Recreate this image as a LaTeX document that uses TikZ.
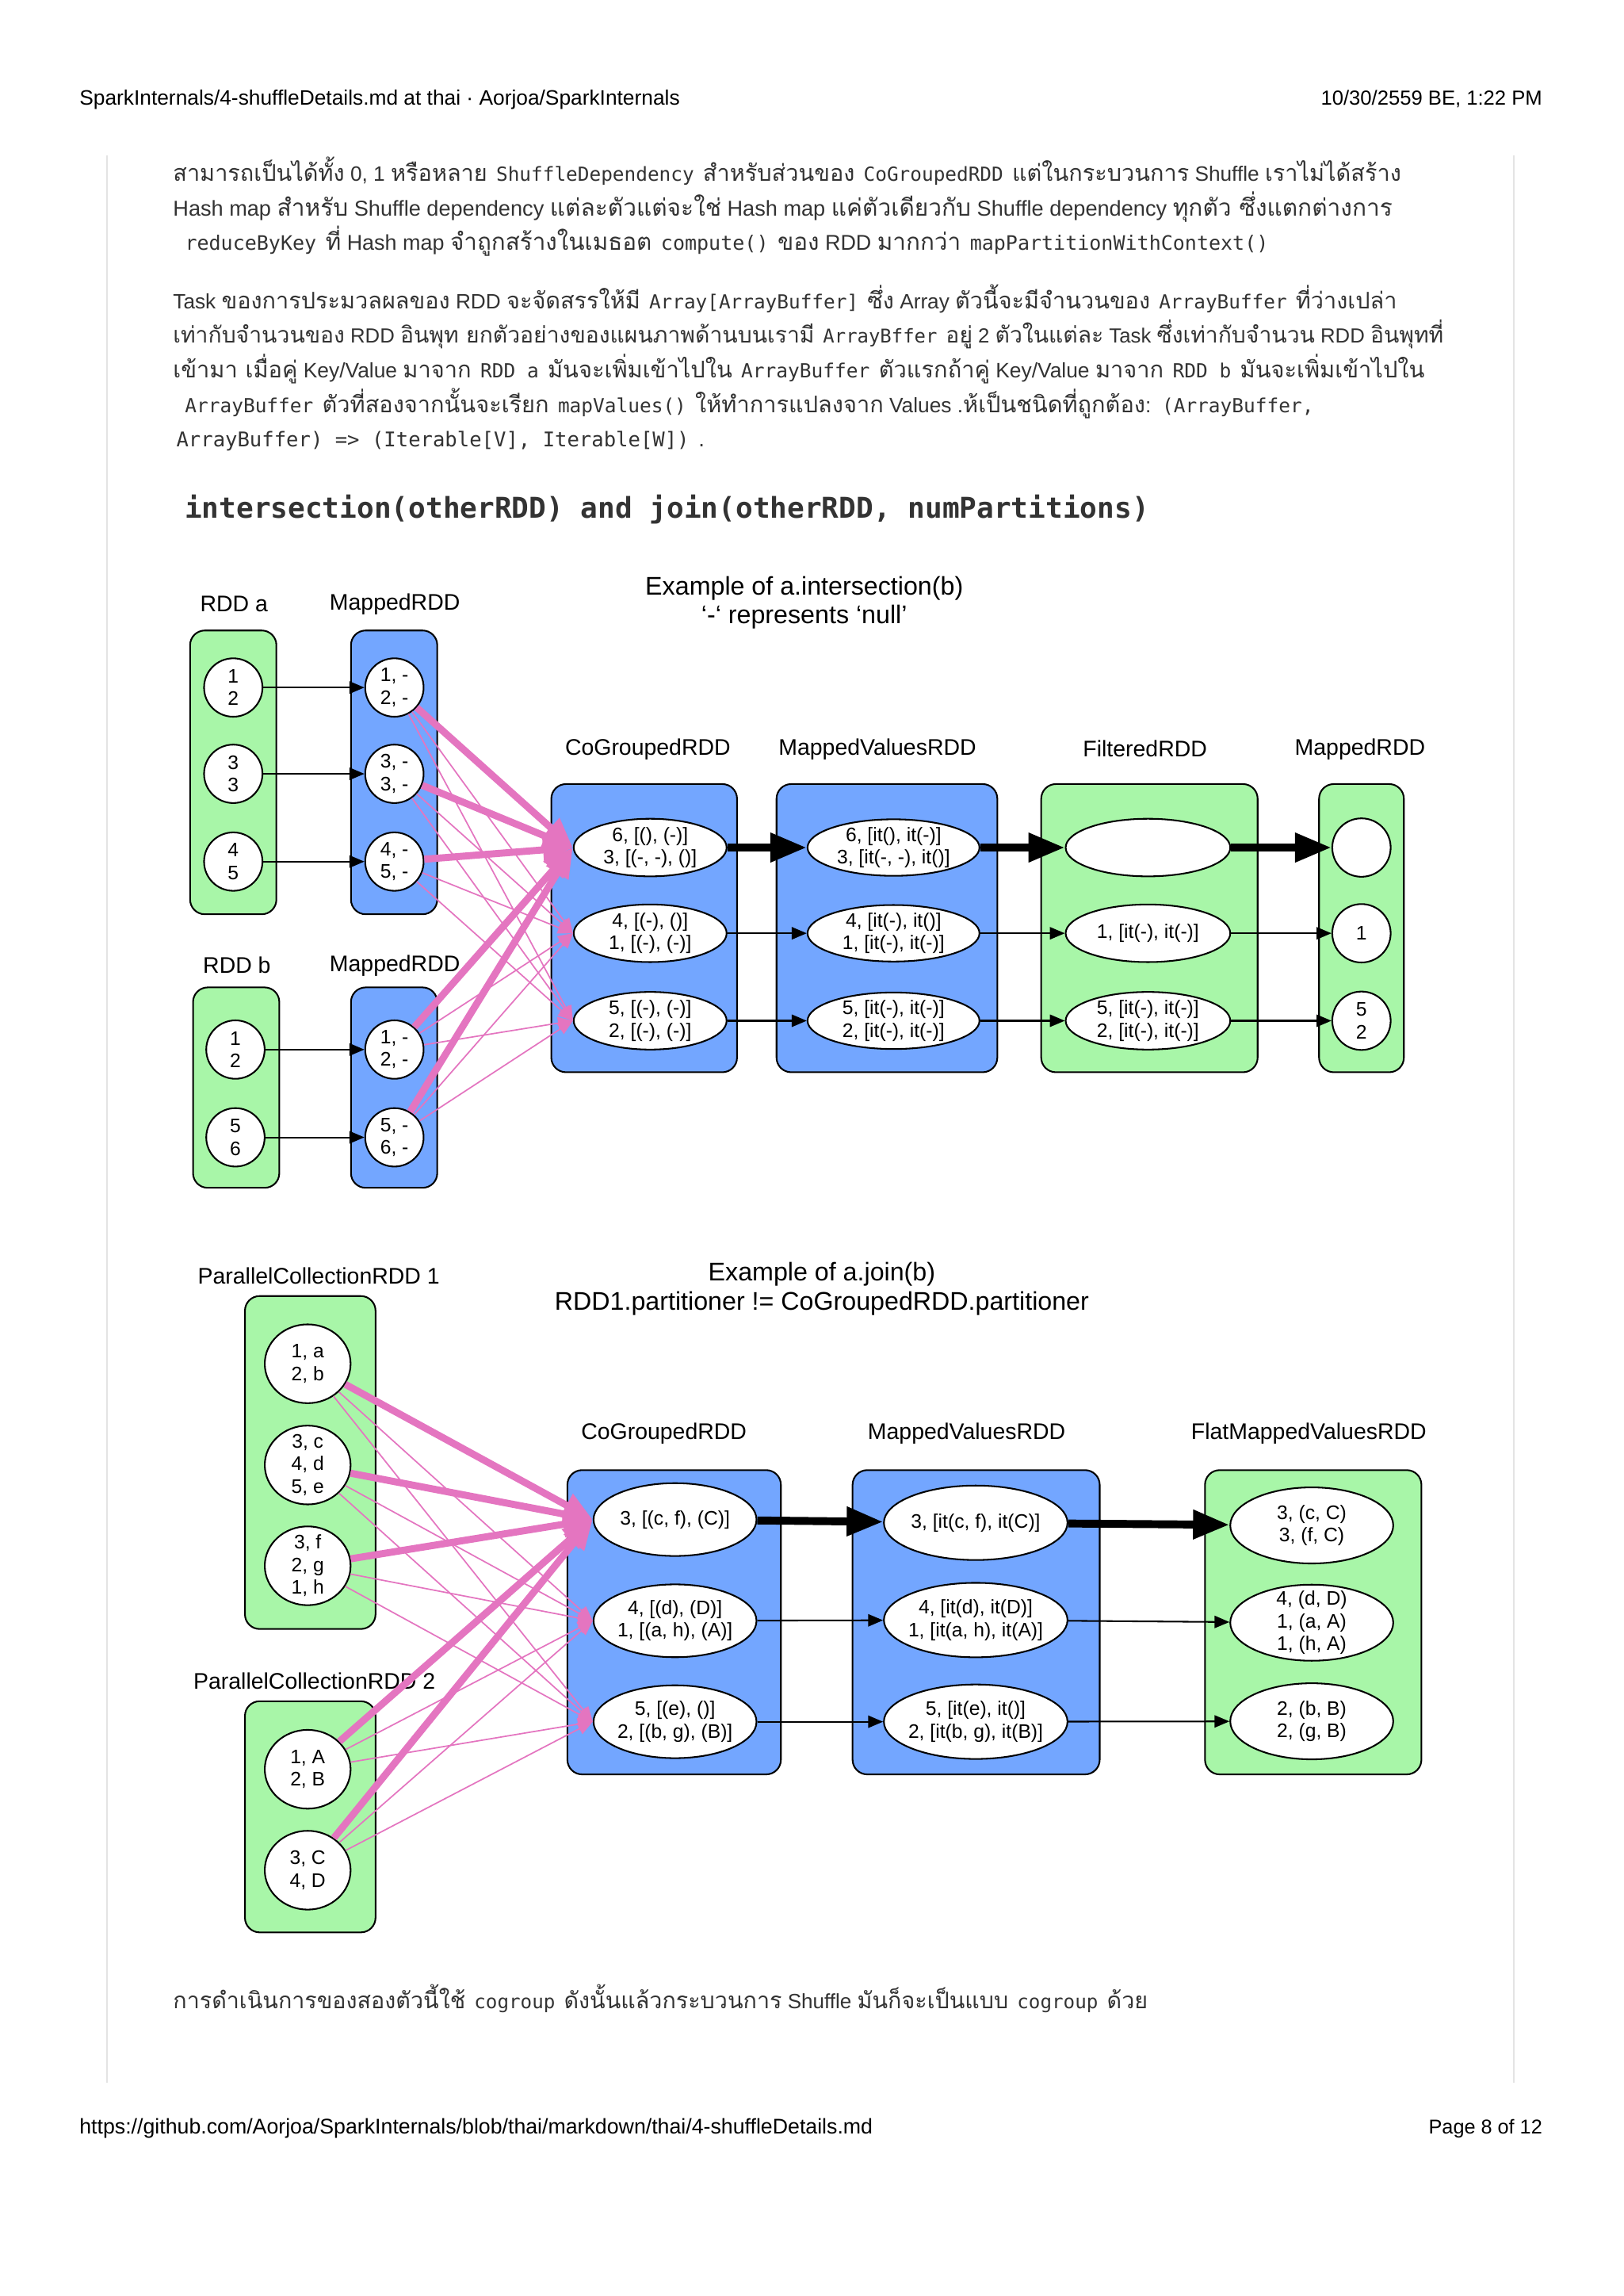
\documentclass[tikz,border=0pt]{standalone}
\usepackage{graphicx}
\usepackage{fontspec}
\setmainfont{Liberation Sans}
\newfontfamily\thf[Script=Thai,Scale=1.1]{Loma}
\newfontfamily\cdf{DejaVu Sans Mono}
\usetikzlibrary{arrows.meta,shapes.geometric}
\definecolor{gfill}{RGB}{168,246,168}
\definecolor{bfill}{RGB}{115,166,255}
\definecolor{pinkc}{RGB}{228,117,192}
\definecolor{bodyc}{RGB}{51,51,51}
\definecolor{rulec}{RGB}{228,228,228}
\newcommand{\bodysz}{\fontsize{8.5}{12}\selectfont}
\newcommand{\cd}[1]{\hspace{0.15em}{\cdf\fontsize{7.9}{12}\selectfont #1}\hspace{0.15em}}
\newcommand{\tx}[1]{{\thf #1}}
\tikzset{
  bodyln/.style={anchor=base west, inner sep=0, text=bodyc, font=\bodysz},
  hdrl/.style={anchor=base west, inner sep=0, font=\fontsize{7.5}{9}\selectfont},
  hdrr/.style={anchor=base east, inner sep=0, font=\fontsize{7.5}{9}\selectfont},
  lbl/.style={inner sep=0, font=\fontsize{8.3}{10}\selectfont},
  ttl/.style={inner sep=0, align=center, font=\fontsize{9.4}{10.7}\selectfont},
  gbox/.style={draw=black, fill=gfill, rounded corners=5.4pt, line width=0.6pt},
  bbox/.style={draw=black, fill=bfill, rounded corners=5.4pt, line width=0.6pt},
  ell/.style={ellipse, draw=black, fill=white, line width=0.6pt, inner sep=-12pt, align=center, font=\fontsize{7.2}{8.3}\selectfont},
  cir/.style={ell, minimum width=21.5pt, minimum height=21.5pt},
  eca/.style={ell, minimum width=56.3pt, minimum height=21.2pt},
  eva/.style={ell, minimum width=63.3pt, minimum height=20.8pt},
  efa/.style={ell, minimum width=60.6pt, minimum height=21.2pt},
  pcn/.style={ell, minimum width=31.6pt, minimum height=29pt},
  ecb/.style={ell, minimum width=60pt, minimum height=26.8pt},
  evb/.style={ell, minimum width=67.6pt, minimum height=27.4pt},
  efb/.style={ell, minimum width=60pt, minimum height=28pt},
  thinblk/.style={-{Triangle[length=5.5pt,width=4.5pt]}, line width=0.6pt},
  thkblk/.style={-{Triangle[length=13.4pt,width=10.2pt]}, line width=2.9pt},
  thinpk/.style={draw=pinkc, -{Triangle[length=5.5pt,width=4.5pt]}, fill=pinkc, line width=0.5pt},
  thkpk/.style={draw=pinkc, -{Triangle[length=11pt,width=9pt]}, fill=pinkc, line width=2.6pt}
}
\begin{document}
\begin{tikzpicture}[x=0.018919cm, y=-0.018919cm]
\useasboundingbox[fill=white] (0,0) rectangle (1110,1569.6);
% page frame
\draw[rulec, line width=0.5pt] (73,106) -- (73,1424);
\draw[rulec, line width=0.5pt] (1035,106) -- (1035,1424);
% header / footer
\node[hdrl] (hl) at (54,72) {\resizebox{221pt}{!}{SparkInternals/4-shuffleDetails.md at thai · Aorjoa/SparkInternals}};
\node[hdrr] (hr) at (1055,72) {\resizebox{81.5pt}{!}{10/30/2559 BE, 1:22 PM}};
\node[hdrl] (fl) at (54,1459) {\resizebox{292pt}{!}{https://github.com/Aorjoa/SparkInternals/blob/thai/markdown/thai/4-shuffleDetails.md}};
\node[hdrr] (fr) at (1055,1459) {\resizebox{41.8pt}{!}{Page 8 of 12}};
% body text
\node[bodyln] (l1) at (118,124) {\resizebox{452.1pt}{!}{\tx{สามารถเป็นได้ทั้ง} 0, 1 \tx{หรือหลาย} \cd{ShuffleDependency} \tx{สำหรับส่วนของ} \cd{CoGroupedRDD} \tx{แต่ในกระบวนการ} Shuffle \tx{เราไม่ได้สร้าง}}};
\node[bodyln] (l2) at (118,147.5) {\resizebox{448.9pt}{!}{Hash map \tx{สำหรับ} Shuffle dependency \tx{แต่ละตัวแต่จะใช่} Hash map \tx{แค่ตัวเดียวกับ} Shuffle dependency \tx{ทุกตัว ซึ่งแตกต่างการ}}};
\node[bodyln] (l3) at (124,171) {\resizebox{401.2pt}{!}{\cd{reduceByKey} \tx{ที่} Hash map \tx{จำถูกสร้างในเมธอต} \cd{compute()} \tx{ของ} RDD \tx{มากกว่า} \cd{mapPartitionWithContext()}}};
\node[bodyln] (l4) at (118,211) {\resizebox{450.5pt}{!}{Task \tx{ของการประมวลผลของ} RDD \tx{จะจัดสรรให้มี} \cd{Array[ArrayBuffer]} \tx{ซึ่ง} Array \tx{ตัวนี้จะมีจำนวนของ} \cd{ArrayBuffer} \tx{ที่ว่างเปล่า}}};
\node[bodyln] (l5) at (118,234.5) {\resizebox{467.7pt}{!}{\tx{เท่ากับจำนวนของ} RDD \tx{อินพุท ยกตัวอย่างของแผนภาพด้านบนเรามี} \cd{ArrayBffer} \tx{อยู่} 2 \tx{ตัวในแต่ละ} Task \tx{ซึ่งเท่ากับจำนวน} RDD \tx{อินพุทที่}}};
\node[bodyln] (l6) at (118,258) {\resizebox{460.7pt}{!}{\tx{เข้ามา เมื่อคู่} Key/Value \tx{มาจาก} \cd{RDD a} \tx{มันจะเพิ่มเข้าไปใน} \cd{ArrayBuffer} \tx{ตัวแรกถ้าคู่} Key/Value \tx{มาจาก} \cd{RDD b} \tx{มันจะเพิ่มเข้าไปใน}}};
\node[bodyln] (l7) at (124,282) {\resizebox{417.8pt}{!}{\cd{ArrayBuffer} \tx{ตัวที่สองจากนั้นจะเรียก} \cd{mapValues()} \tx{ให้ทำการแปลงจาก} Values .\tx{ห้เป็นชนิดที่ถูกต้อง}: \cd{(ArrayBuffer,}}};
\node[bodyln] (l8) at (118,305.5) {\resizebox{195.7pt}{!}{\cd{ArrayBuffer) => (Iterable[V], Iterable[W])} .}};
\node[bodyln] (hd) at (126,354) {\resizebox{355pt}{!}{\cdf\bfseries\fontsize{10.5}{12}\selectfont intersection(otherRDD) and join(otherRDD, numPartitions)}};
\node[bodyln] (lz) at (118,1373) {\resizebox{358.8pt}{!}{\tx{การดำเนินการของสองตัวนี้ใช้} \cd{cogroup} \tx{ดังนั้นแล้วกระบวนการ} Shuffle \tx{มันก็จะเป็นแบบ} \cd{cogroup} \tx{ด้วย}}};

% ===== Diagram 1 =====
\node[ttl] (t1) at (550,412) {Example of a.intersection(b)\\‘-‘ represents ‘null’};
\node[lbl] (la) at (160,413) {RDD a};
\node[lbl] (lma) at (270,413) {MappedRDD};
\node[lbl] (lb) at (162,660) {RDD b};
\node[lbl] (lmb) at (270,660) {MappedRDD};
\node[lbl] (lc1) at (443,512) {CoGroupedRDD};
\node[lbl] (lv1) at (600,512) {MappedValuesRDD};
\node[lbl] (lf1) at (783,512) {FilteredRDD};
\node[lbl] (lg1) at (930,512) {MappedRDD};
\draw[gbox] (130,431) rectangle (189,625);
\draw[bbox] (240,431) rectangle (299,625);
\draw[gbox] (132,675) rectangle (191,812);
\draw[bbox] (240,675) rectangle (299,812);
\draw[bbox] (377,536) rectangle (504,733);
\draw[bbox] (531,536) rectangle (682,733);
\draw[gbox] (712,536) rectangle (860,733);
\draw[gbox] (902,536) rectangle (960,733);
\node[cir] (ra1) at (159.5,470) {1\\2};
\node[cir] (ra2) at (159.5,529) {3\\3};
\node[cir] (ra3) at (159.5,589) {4\\5};
\node[cir] (ma1) at (269.7,470) {1, -\\2, -};
\node[cir] (ma2) at (269.7,529) {3, -\\3, -};
\node[cir] (ma3) at (269.7,589) {4, -\\5, -};
\node[cir] (rb1) at (161,717.5) {1\\2};
\node[cir] (rb2) at (161,777.5) {5\\6};
\node[cir] (mb1) at (269.7,717.5) {1, -\\2, -};
\node[cir] (mb2) at (269.7,777.5) {5, -\\6, -};
\node[eca] (c1) at (444.6,579.4) {6, [(), (-)]\\3, [(-, -), ()]};
\node[eca] (c2) at (444.6,638) {4, [(-), ()]\\1, [(-), (-)]};
\node[eca] (c3) at (444.6,697.8) {5, [(-), (-)]\\2, [(-), (-)]};
\node[eva] (v1) at (611,579.4) {6, [it(), it(-)]\\3, [it(-, -), it()]};
\node[eva] (v2) at (611,638) {4, [it(-), it()]\\1, [it(-), it(-)]};
\node[eva] (v3) at (611,697.8) {5, [it(-), it(-)]\\2, [it(-), it(-)]};
\node[efa] (f1) at (785,579.4) {};
\node[efa] (f2) at (785,638) {1, [it(-), it(-)]};
\node[efa] (f3) at (785,697.8) {5, [it(-), it(-)]\\2, [it(-), it(-)]};
\node[cir] (g1) at (931,579.4) {};
\node[cir] (g2) at (931,638) {1};
\node[cir] (g3) at (931,697.8) {5\\2};
\draw[thinblk] (ra1) -- (ma1);
\draw[thinblk] (ra2) -- (ma2);
\draw[thinblk] (ra3) -- (ma3);
\draw[thinblk] (rb1) -- (mb1);
\draw[thinblk] (rb2) -- (mb2);
\foreach \s in {ma1,ma2,ma3,mb1,mb2}{
  \draw[thinpk] (\s) -- (c2.west);
  \draw[thinpk] (\s) -- (c3.west);
}
\foreach \s in {ma1,ma2,ma3,mb1,mb2}{
  \draw[thkpk] (\s) -- (c1.west);
}
\draw[thkblk] (c1) -- (v1);
\draw[thkblk] (v1) -- (f1);
\draw[thkblk] (f1) -- (g1);
\draw[thinblk] (c2) -- (v2);
\draw[thinblk] (c3) -- (v3);
\draw[thinblk] (v2) -- (f2);
\draw[thinblk] (v3) -- (f3);
\draw[thinblk] (f2) -- (g2);
\draw[thinblk] (f3) -- (g3);

% ===== Diagram 2 =====
\node[ttl] (t2) at (562,881) {Example of a.join(b)\\RDD1.partitioner != CoGroupedRDD.partitioner};
\node[lbl] (lp1) at (218,872) {ParallelCollectionRDD 1};
\node[lbl] (lp2) at (215,1149) {ParallelCollectionRDD 2};
\node[lbl] (lc2) at (454,980) {CoGroupedRDD};
\node[lbl] (lv2) at (661,980) {MappedValuesRDD};
\node[lbl] (lf2) at (895,980) {FlatMappedValuesRDD};
\draw[gbox] (167.5,886) rectangle (256.8,1113.6);
\draw[gbox] (167.5,1163) rectangle (256.8,1321);
\draw[bbox] (388,1005) rectangle (534,1213);
\draw[bbox] (583,1005) rectangle (752,1213);
\draw[gbox] (824,1005) rectangle (972,1213);
\node[pcn] (p1) at (210.4,932.3) {1, a\\2, b};
\node[pcn] (p2) at (210.4,1001.5) {3, c\\4, d\\5, e};
\node[pcn] (p3) at (210.4,1070.4) {3, f\\2, g\\1, h};
\node[pcn] (q1) at (210.4,1209.5) {1, A\\2, B};
\node[pcn] (q2) at (210.4,1278.5) {3, C\\4, D};
\node[ecb] (d1) at (461.6,1038.8) {3, [(c, f), (C)]};
\node[ecb] (d2) at (461.6,1108) {4, [(d), (D)]\\1, [(a, h), (A)]};
\node[ecb] (d3) at (461.6,1177) {5, [(e), ()]\\2, [(b, g), (B)]};
\node[evb] (w1) at (667.2,1041) {3, [it(c, f), it(C)]};
\node[evb] (w2) at (667.2,1107.5) {4, [it(d), it(D)]\\1, [it(a, h), it(A)]};
\node[evb] (w3) at (667.2,1177) {5, [it(e), it()]\\2, [it(b, g), it(B)]};
\node[efb] (e1) at (897,1042.8) {3, (c, C)\\3, (f, C)};
\node[efb] (e2) at (897,1109.3) {4, (d, D)\\1, (a, A)\\1, (h, A)};
\node[efb] (e3) at (897,1176.7) {2, (b, B)\\2, (g, B)};
\foreach \s in {p1,p2,p3,q1,q2}{
  \draw[thinpk] (\s) -- (d2.west);
  \draw[thinpk] (\s) -- (d3.west);
}
\foreach \s in {p1,p2,p3,q1,q2}{
  \draw[thkpk] (\s) -- (d1.west);
}
\draw[thkblk] (d1) -- (w1);
\draw[thkblk] (w1) -- (e1);
\draw[thinblk] (d2) -- (w2);
\draw[thinblk] (d3) -- (w3);
\draw[thinblk] (w2) -- (e2);
\draw[thinblk] (w3) -- (e3);
\end{tikzpicture}
\end{document}
